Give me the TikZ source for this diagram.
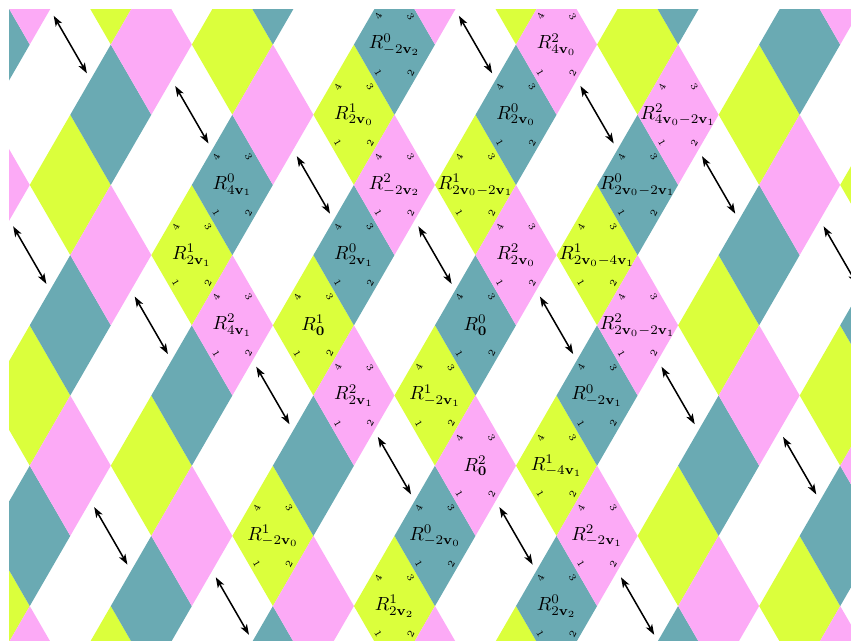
\documentclass[tikz,border=0pt]{standalone}
\usetikzlibrary{arrows.meta}
\definecolor{tealc}{RGB}{106,170,179}
\definecolor{yelc}{RGB}{219,255,60}
\definecolor{pinkc}{RGB}{252,170,246}
\def\rhw{0.75}
\def\rhh{1.299038}
\newcommand\rhpath{(-\rhw,0) -- (0,\rhh) -- (\rhw,0) -- (0,-\rhh) -- cycle}
\newcommand\rtile[3]{%
  \node[lbl] (R#1x#2) at ({#1*\rhw},{-#2*\rhh}) {$#3$};
  \node[enum,rotate=60]  (R#1x#2e4) at ({(#1-0.4)*\rhw},{(-#2+0.4)*\rhh}) {4};
  \node[enum,rotate=-60] (R#1x#2e3) at ({(#1+0.4)*\rhw},{(-#2+0.4)*\rhh}) {3};
  \node[enum,rotate=-60] (R#1x#2e1) at ({(#1-0.4)*\rhw},{(-#2-0.4)*\rhh}) {1};
  \node[enum,rotate=60]  (R#1x#2e2) at ({(#1+0.4)*\rhw},{(-#2-0.4)*\rhh}) {2};
}
\begin{document}
\begin{tikzpicture}[x=1cm,y=1cm,
  lbl/.style={inner sep=0pt},
  enum/.style={font=\tiny,inner sep=0pt},
  idarrow/.style={{Stealth[length=5.5pt,width=3.8pt,inset=1.4pt]}-{Stealth[length=5.5pt,width=3.8pt,inset=1.4pt]},line width=0.8pt}]
\useasboundingbox (-8.801,-5.843) rectangle (6.950,6.021);
\begin{scope}
\clip (-8.634,-5.843) rectangle (6.950,5.854);
\foreach \i in {-13,...,11}{
  \foreach \j in {-6,...,6}{
    \pgfmathtruncatemacro{\pp}{mod(\i+\j+100,2)}
    \ifnum\pp=0
      \pgfmathtruncatemacro{\g}{mod(\i+2*\j+100,5)}
      \pgfmathsetmacro{\cx}{\i*\rhw}
      \pgfmathsetmacro{\cy}{-\j*\rhh}
      \ifcase\g
        \fill[tealc,shift={(\cx,\cy)}] \rhpath;
      \or
        \fill[yelc,shift={(\cx,\cy)}] \rhpath;
      \or
        \coordinate (as\i x\j) at ({\cx-0.41*\rhw},{\cy+0.41*\rhh});
        \coordinate (ae\i x\j) at ({\cx+0.41*\rhw},{\cy-0.41*\rhh});
        \draw[idarrow] (as\i x\j) -- (ae\i x\j);
      \or
      \or
        \fill[pinkc,shift={(\cx,\cy)}] \rhpath;
      \fi
    \fi
  }
}
\rtile{-2}{-4}{R^{0}_{-2\mathbf{v}_2}}
\rtile{2}{-4}{R^{2}_{4\mathbf{v}_0}}
\rtile{-3}{-3}{R^{1}_{2\mathbf{v}_0}}
\rtile{1}{-3}{R^{0}_{2\mathbf{v}_0}}
\rtile{5}{-3}{R^{2}_{4\mathbf{v}_0-2\mathbf{v}_1}}
\rtile{-2}{-2}{R^{2}_{-2\mathbf{v}_2}}
\rtile{0}{-2}{R^{1}_{2\mathbf{v}_0-2\mathbf{v}_1}}
\rtile{4}{-2}{R^{0}_{2\mathbf{v}_0-2\mathbf{v}_1}}
\rtile{-6}{-2}{R^{0}_{4\mathbf{v}_1}}
\rtile{-7}{-1}{R^{1}_{2\mathbf{v}_1}}
\rtile{-3}{-1}{R^{0}_{2\mathbf{v}_1}}
\rtile{1}{-1}{R^{2}_{2\mathbf{v}_0}}
\rtile{3}{-1}{R^{1}_{2\mathbf{v}_0-4\mathbf{v}_1}}
\rtile{-6}{0}{R^{2}_{4\mathbf{v}_1}}
\rtile{-4}{0}{R^{1}_{\mathbf{0}}}
\rtile{0}{0}{R^{0}_{\mathbf{0}}}
\rtile{4}{0}{R^{2}_{2\mathbf{v}_0-2\mathbf{v}_1}}
\rtile{-3}{1}{R^{2}_{2\mathbf{v}_1}}
\rtile{-1}{1}{R^{1}_{-2\mathbf{v}_1}}
\rtile{3}{1}{R^{0}_{-2\mathbf{v}_1}}
\rtile{0}{2}{R^{2}_{\mathbf{0}}}
\rtile{2}{2}{R^{1}_{-4\mathbf{v}_1}}
\rtile{-5}{3}{R^{1}_{-2\mathbf{v}_0}}
\rtile{-1}{3}{R^{0}_{-2\mathbf{v}_0}}
\rtile{3}{3}{R^{2}_{-2\mathbf{v}_1}}
\rtile{-2}{4}{R^{1}_{2\mathbf{v}_2}}
\rtile{2}{4}{R^{0}_{2\mathbf{v}_2}}
\end{scope}
\end{tikzpicture}
\end{document}
